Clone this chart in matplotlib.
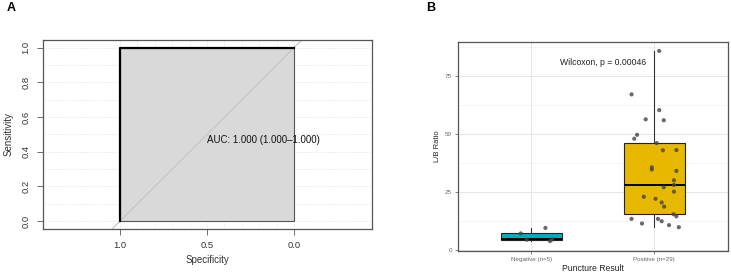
import numpy as np
import matplotlib
matplotlib.use("Agg")
import matplotlib.pyplot as plt

plt.rcParams['font.family'] = ['Liberation Sans', 'DejaVu Sans']

# ---------------- Data ----------------
# Panel A: ROC curve (specificity, sensitivity)
roc_specificity = [1.0, 1.0, 0.0]
roc_sensitivity = [0.0, 1.0, 1.0]
auc_label = "AUC: 1.000 (1.000\u20131.000)"
roc_xticks = [1.0, 0.5, 0.0]
roc_yticks = [0.0, 0.2, 0.4, 0.6, 0.8, 1.0]

# Panel B: L/B ratio by puncture result
groups = ["Negative (n=5)", "Positive (n=29)"]
negative_values = [7.0, 4.3, 9.4, 3.7, 4.4]
negative_jitter = [-0.087, -0.038, 0.114, 0.151, 0.17]
positive_values = [86.0, 67.2, 60.4, 56.4, 56.0, 49.7, 48.0, 46.1, 43.0, 43.1,
                   35.6, 34.7, 34.1, 30.0, 28.0, 27.0, 25.1, 22.9, 22.0, 20.4,
                   18.6, 15.3, 14.4, 13.3, 13.3, 12.3, 11.3, 10.6, 9.7]
positive_jitter = [0.04, -0.185, 0.04, -0.07, 0.077, -0.14, -0.163, 0.02, 0.07, 0.18,
                   -0.02, -0.02, 0.18, 0.16, 0.16, 0.077, 0.16, -0.085, 0.01, 0.06,
                   0.08, 0.157, 0.18, -0.185, 0.03, 0.06, -0.1, 0.12, 0.2]
box_colors = ["#00AFBB", "#E7B800"]
wilcox_label = "Wilcoxon, p = 0.00046"
b_yticks = [0, 25, 50, 75]

W, H = 731, 273
fig = plt.figure(figsize=(W / 100, H / 100), dpi=100)

def px_axes(x0, y0, x1, y1):
    return fig.add_axes([x0 / W, 1 - y1 / H, (x1 - x0) / W, (y1 - y0) / H])

# ---------------- Panel A ----------------
axA = px_axes(43, 40, 372, 229)
axA.set_xlim(1.443, -0.448)
axA.set_ylim(-0.046, 1.044)
grid_c = "#E3E3E3"
for g in np.arange(0, 1.01, 0.1):
    axA.axhline(g, color=grid_c, lw=0.7, ls=(0, (1, 1.5)), zorder=0)
    axA.plot([g, g], [-0.046, 1.044], color=grid_c, lw=0.7, ls=(0, (1, 1.5)), zorder=0)
poly_x = roc_specificity + [0.0]
poly_y = roc_sensitivity + [0.0]
axA.fill(poly_x, poly_y, facecolor="#D9D9D9", edgecolor="#555555", lw=0.8, zorder=1)
axA.axline((1, 0), (0, 1), color="#C4C4C4", lw=0.8, zorder=2)
axA.plot(roc_specificity, roc_sensitivity, color="black", lw=1.6, zorder=3)
axA.text(0.5, 0.465, auc_label, fontsize=7, ha="left", va="center", color="#111111", zorder=4)
axA.set_xticks(roc_xticks)
axA.set_xticklabels(["1.0", "0.5", "0.0"])
axA.set_yticks(roc_yticks)
axA.set_yticklabels([f"{v:.1f}" for v in roc_yticks], rotation=90, va="center")
axA.tick_params(labelsize=6.8, length=4, width=0.6, color="#555555", labelcolor="#333333", pad=5)
for s in axA.spines.values():
    s.set_color("#555555")
    s.set_linewidth(0.9)
axA.set_xlabel("Specificity", fontsize=7, color="#333333", labelpad=3)
axA.set_ylabel("Sensitivity", fontsize=7, color="#333333", labelpad=6)

# ---------------- Panel B ----------------
axB = px_axes(457.7, 41.7, 728, 251)
axB.set_xlim(0.4, 2.6)
axB.set_ylim(-0.6, 90)
for g in [12.5, 37.5, 62.5, 87.5]:
    axB.axhline(g, color="#F2F2F2", lw=0.5, zorder=0)
for g in b_yticks:
    axB.axhline(g, color="#E6E6E6", lw=0.7, zorder=0)
for g in [1, 2]:
    axB.axvline(g, color="#E6E6E6", lw=0.7, zorder=0)

bp = axB.boxplot([negative_values, positive_values], positions=[1, 2], widths=0.5,
                 patch_artist=True, showfliers=False, whis=1.5,
                 medianprops=dict(color="black", lw=1.4),
                 whiskerprops=dict(color="#333333", lw=0.8),
                 capprops=dict(lw=0),
                 boxprops=dict(edgecolor="#222222", lw=0.8), zorder=2)
for patch, c in zip(bp["boxes"], box_colors):
    patch.set_facecolor(c)

axB.scatter(1 + np.array(negative_jitter), negative_values, s=9, color="#444444",
            alpha=0.8, edgecolors="none", zorder=3)
axB.scatter(2 + np.array(positive_jitter), positive_values, s=9, color="#444444",
            alpha=0.8, edgecolors="none", zorder=3)
axB.text(1.58, 81.2, wilcox_label, fontsize=6.2, ha="center", va="center", color="#222222")

axB.set_xticks([1, 2])
axB.set_xticklabels(groups)
axB.set_yticks(b_yticks)
axB.tick_params(labelsize=4.5, length=2, width=0.5, color="#555555", labelcolor="#666666", pad=2)
for s in axB.spines.values():
    s.set_color("#555555")
    s.set_linewidth(0.9)
axB.set_xlabel("Puncture Result", fontsize=6.2, color="#222222", labelpad=2)
axB.set_ylabel("L/B Ratio", fontsize=5.5, color="#222222", labelpad=3)

fig.text(11 / W, 1 - 8 / H, "A", fontsize=9, fontweight="bold", ha="center", va="center")
fig.text(431 / W, 1 - 8 / H, "B", fontsize=9, fontweight="bold", ha="center", va="center")

fig.savefig("out.png", dpi=100)
